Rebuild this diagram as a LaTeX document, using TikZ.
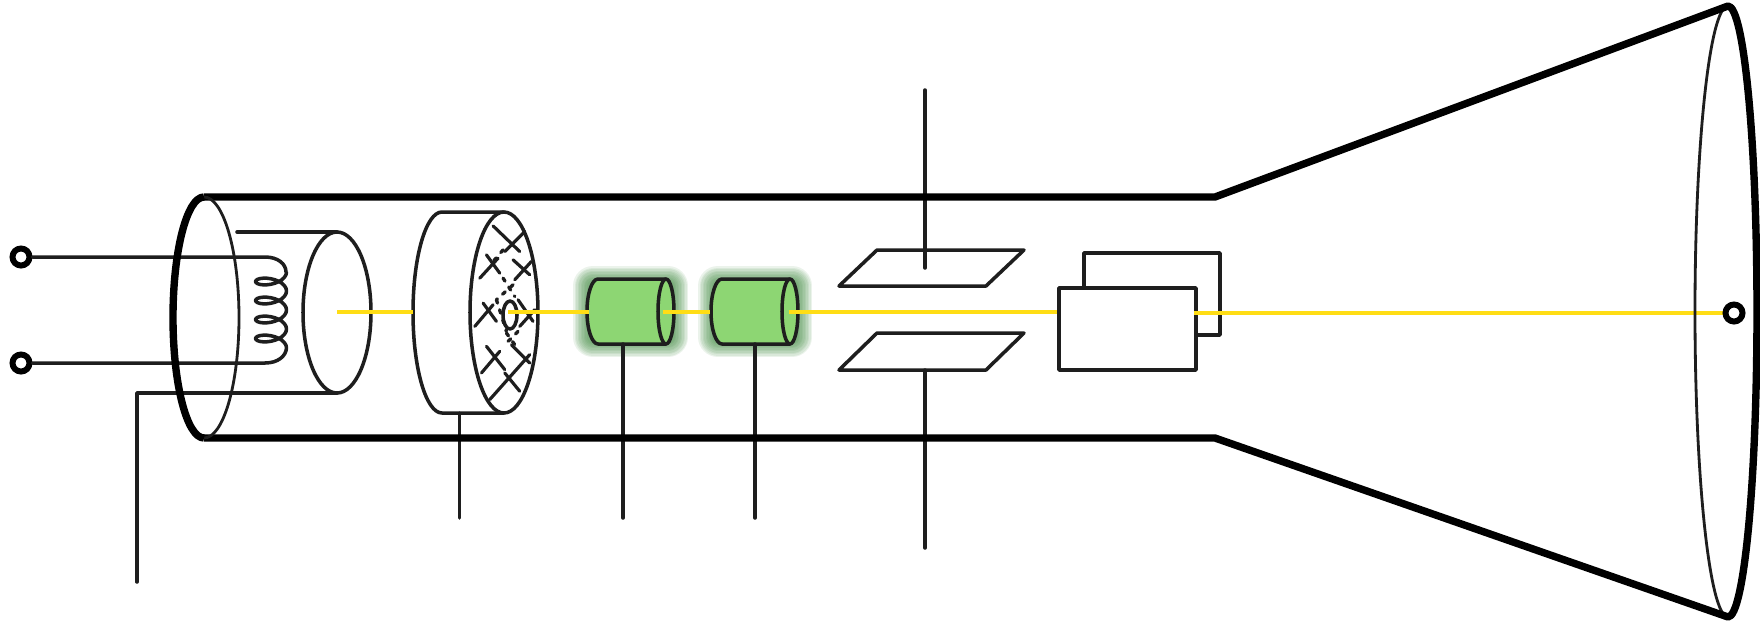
\documentclass[tikz,border=0pt]{standalone}
\usepackage{tikz}
\usetikzlibrary{calc}
\usepackage{tkz-euclide}
\definecolor{wireblack}{HTML}{1E1E1E}
\definecolor{beamyellow}{HTML}{FFDD15}
\definecolor{lensgreen}{HTML}{8DD673}
\definecolor{glowgreen}{HTML}{3F8A3F}
\tikzset{
    wire/.style={draw=wireblack, line width=1pt, line cap=round, line join=round},
    tube/.style={draw=black, line width=2.1pt, line join=round},
    beam/.style={draw=beamyellow, line width=1.1pt},
    terminal/.style={circle, draw=black, line width=1.7pt, fill=white, minimum size=1.7mm, inner sep=0pt},
    gridwire/.style={wire, line width=0.9pt},
    gridhole/.style={wire, dotted, line width=0.95pt}
}
\newcommand{\lensglow}[2]{% left and right x of one lens
    \foreach \w in {40,37,34,31,28,25,22,19,16,13}{
        \draw[glowgreen, opacity=0.1, line width=\w*0.2845pt, line join=round]
            (#1,2.86) rectangle (#2,3.37);
    }
}
\newcommand{\lensbody}[1]{% x of the end face centre
    \draw[wire, fill=lensgreen] ($(#1,2.79)+(-0.68,0)$) -- (#1,2.79)
        arc[start angle=-90, end angle=90, x radius=0.08, y radius=0.325]
        -- ($(#1,3.44)+(-0.68,0)$)
        arc[start angle=90, end angle=270, x radius=0.11, y radius=0.325] -- cycle;
    \draw[wire] (#1,2.79) arc[start angle=270, end angle=90, x radius=0.08, y radius=0.325];
}
\begin{document}
\begin{tikzpicture}[x=1cm, y=-1cm]
    \useasboundingbox (0,0) rectangle (17.6,6.23);
    \fill[white] (0,0) rectangle (17.6,6.23);
    \tkzDefPoints{2.04/1.97/TL, 2.04/4.38/BL, 12.15/1.97/NT, 12.15/4.38/NB, 17.28/0.06/FT, 17.28/6.17/FB}
    \tkzDefPoints{2.37/2.32/KA, 3.37/2.32/KT, 3.37/3.93/KB, 1.37/3.93/KL, 1.37/5.82/KE}
    \tkzDefPoints{2.65/2.57/HA, 2.65/3.63/HB}
    \tkzDefPoints{4.42/2.12/GA, 5.04/2.12/GT, 5.04/4.13/GB, 4.42/4.13/GC, 4.595/4.13/GW, 4.595/5.18/GE}
    \tkzDefPoints{6.23/3.44/LA, 6.23/5.18/LB, 7.55/3.44/MA, 7.55/5.18/MB}
    \tkzDefPoints{8.77/2.50/P, 10.24/2.50/Q, 9.86/2.86/R, 8.39/2.86/S}
    \tkzDefPoints{8.77/3.33/T, 10.24/3.33/U, 9.86/3.70/V, 8.39/3.70/W}
    \tkzDefPoints{9.25/0.90/PA, 9.25/2.68/PB, 9.25/3.70/PC, 9.25/5.48/PD}
    \tkzDefPoints{10.59/2.88/BA, 11.96/2.88/BB, 11.96/3.70/BC, 10.59/3.70/BD}
    \tkzDefPoints{10.84/2.88/CA, 10.84/2.53/CB, 12.20/2.53/CC, 12.20/3.35/CD, 11.96/3.35/CE}
    % glow and lenses
    \lensglow{5.93}{6.68}
    \lensglow{7.18}{7.92}
    \lensbody{6.66}
    \lensbody{7.90}
    % cathode and heater
    \draw[wire] (KA) -- (KT) (KB) -- (KL) -- (KE);
    \draw[wire] (3.37,3.125) ellipse[x radius=0.34, y radius=0.805];
    \node[terminal] (termA) at (0.21,2.57) {};
    \node[terminal] (termB) at (0.21,3.63) {};
    \draw[wire] (termA) -- (HA) .. controls (2.78,2.57) and (2.86,2.64) .. (2.86,2.72)
        plot[smooth, domain=0:1440, samples=97] ({2.71+0.155*cos(\x)},{2.72+0.19*\x/360+0.075*sin(\x)})
        .. controls (2.86,3.56) and (2.78,3.63) .. (HB) -- (termB);
    % grid
    \draw[wire] (GT) -- (GA) arc[start angle=270, end angle=90, x radius=0.29, y radius=1.005] -- (GB);
    \draw[wire] (5.04,3.125) ellipse[x radius=0.34, y radius=1.005];
    \draw[wire] (GW) -- (GE);
    \draw[wire] (5.10,3.15) ellipse[x radius=0.07, y radius=0.14];
    \begin{scope}[shift={(3.9,1.9)}, x=0.00333cm, y=-0.00333cm]
        \foreach \a/\b/\c/\d in {310/108/390/185, 345/185/405/125, 290/195/330/250, 270/265/325/205,
            370/210/420/255, 375/270/425/215, 280/340/320/395, 255/410/310/345,
            385/330/430/395, 390/410/435/360, 290/470/345/540, 275/550/330/485,
            365/465/420/520, 345/550/390/605, 300/630/420/495}{
            \draw[gridwire] (\a,\b) -- (\c,\d);
        }
        \foreach \a/\b/\c/\d in {340/180/310/215, 340/265/375/320, 370/285/320/330,
            320/330/350/425, 385/425/345/465, 350/430/375/465}{
            \draw[gridhole] (\a,\b) -- (\c,\d);
        }
    \end{scope}
    % lens wires, plates, box
    \tkzDrawSegments[wire](LA,LB MA,MB PA,PB PC,PD)
    \tkzDrawPolygon[wire](P,Q,R,S)
    \tkzDrawPolygon[wire](T,U,V,W)
    \draw[wire] (CA) -- (CB) -- (CC) -- (CD) -- (CE);
    \tkzDrawPolygon[wire](BA,BB,BC,BD)
    % beam
    \draw[beam] (3.37,3.12) -- (4.13,3.12) (5.08,3.12) -- (5.89,3.12) (6.63,3.12) -- (7.10,3.12)
        (7.89,3.12) -- (10.57,3.12) (11.94,3.13) -- (17.25,3.13);
    % tube
    \node[terminal] (spot) at (17.34,3.13) {};
    \draw[wire, line width=0.8pt] (FT) arc[start angle=270, end angle=90, x radius=0.33, y radius=3.055];
    \draw[tube] (TL) -- (NT) -- (FT) arc[start angle=-90, end angle=90, x radius=0.29, y radius=3.055] -- (NB) -- (BL);
    \draw[wire, line width=0.8pt] (TL) arc[start angle=-90, end angle=90, x radius=0.35, y radius=1.205];
    \draw[tube] (BL) arc[start angle=90, end angle=270, x radius=0.31, y radius=1.205];
\end{tikzpicture}
\end{document}
